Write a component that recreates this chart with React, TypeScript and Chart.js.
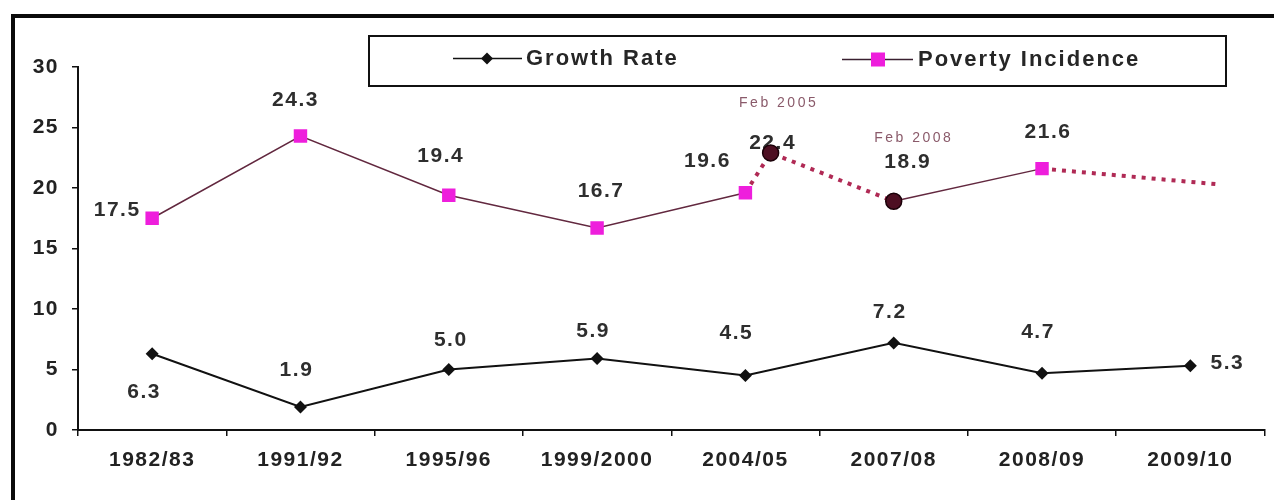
import React, { useEffect, useRef } from 'react';
import { Chart, registerables } from 'chart.js';

Chart.register(...registerables);

// ---------- data ----------
const categories = ['1982/83', '1991/92', '1995/96', '1999/2000', '2004/05', '2007/08', '2008/09', '2009/10'];
const growthRate = [6.3, 1.9, 5.0, 5.9, 4.5, 7.2, 4.7, 5.3];
const povertyIncidence: (number | null)[] = [17.5, 24.3, 19.4, 16.7, 19.6, null, 21.6, null];
const febSurveyNames = ['Feb 2005', 'Feb 2008'];
const febSurveyPosition = [4.17, 5]; // position on the category index axis
const febSurveyValues = [22.9, 18.9];
const febSurveyValueLabels = ['22.4', '18.9'];
const projectionPosition = 7.19;
const projectionValue = 20.3;
const yMin = 0;
const yMax = 30;
const yStep = 5;

// ---------- styling / placement ----------
const FONT = "'Liberation Sans', Arial, Helvetica, sans-serif";
const growthLabelOffsets = [[-8, 38], [-4, -37], [2, -29], [-4, -27], [-9, -42], [-4, -31], [-4, -41], [37, -3]];
const povertyLabelOffsets = [[-35, -8], [-5, -36], [-8, -39], [4, -37], [-38, -32], [0, 0], [6, -36], [0, 0]];
const febValueLabelOffsets = [[2, -10], [14, -39]];
const febNameOffsets = [[8, -50], [20, -63]];

const MAGENTA = '#ee1edc';
const POV_LINE = '#62283f';
const DOTTED = '#b02a55';

export default function App() {
  const ref = useRef<HTMLCanvasElement>(null);

  useEffect(() => {
    const canvas = ref.current;
    if (!canvas) return;

    const framePlugin = {
      id: 'frame',
      beforeDraw(chart: any) {
        const ctx = chart.ctx;
        ctx.save();
        ctx.fillStyle = '#ffffff';
        ctx.fillRect(0, 0, chart.width, chart.height);
        ctx.restore();
        (ctx as any).letterSpacing = '1.5px';
      },
      afterDraw(chart: any) {
        const ctx = chart.ctx;
        ctx.save();
        (ctx as any).letterSpacing = '0px';
        ctx.fillStyle = '#0a0a0a';
        ctx.fillRect(11, 14, 4, chart.height - 14);
        ctx.fillRect(11, 14, chart.width - 11, 4);
        ctx.restore();
      },
    };

    const labelPlugin = {
      id: 'valueLabels',
      beforeDatasetsDraw(chart: any) {
        const ctx = chart.ctx;
        const xs = chart.scales.xd;
        const ys = chart.scales.y;
        ctx.save();
        (ctx as any).letterSpacing = '1.5px';
        ctx.font = `bold 21px ${FONT}`;
        ctx.fillStyle = '#2e2e2e';
        ctx.textAlign = 'center';
        ctx.textBaseline = 'middle';
        growthRate.forEach((v, i) => {
          const [dx, dy] = growthLabelOffsets[i];
          ctx.fillText(v.toFixed(1), xs.getPixelForValue(i) + dx, ys.getPixelForValue(v) + dy);
        });
        povertyIncidence.forEach((v, i) => {
          if (v === null) return;
          const [dx, dy] = povertyLabelOffsets[i];
          ctx.fillText(v.toFixed(1), xs.getPixelForValue(i) + dx, ys.getPixelForValue(v) + dy);
        });
        febSurveyValues.forEach((v, i) => {
          const [dx, dy] = febValueLabelOffsets[i];
          ctx.fillText(febSurveyValueLabels[i], xs.getPixelForValue(febSurveyPosition[i]) + dx, ys.getPixelForValue(v) + dy);
        });
        (ctx as any).letterSpacing = '2.5px';
        ctx.font = `14px ${FONT}`;
        ctx.fillStyle = '#8a5a6a';
        febSurveyValues.forEach((v, i) => {
          const [dx, dy] = febNameOffsets[i];
          ctx.fillText(febSurveyNames[i], xs.getPixelForValue(febSurveyPosition[i]) + dx, ys.getPixelForValue(v) + dy);
        });
        ctx.restore();
      },
    };

    const legendPlugin = {
      id: 'boxLegend',
      afterDraw(chart: any) {
        const ctx = chart.ctx;
        ctx.save();
        ctx.strokeStyle = '#111';
        ctx.lineWidth = 2;
        ctx.strokeRect(369, 36, 857, 50);
        // growth sample
        ctx.strokeStyle = '#111';
        ctx.lineWidth = 1.5;
        ctx.beginPath();
        ctx.moveTo(453, 58.5);
        ctx.lineTo(522, 58.5);
        ctx.stroke();
        ctx.fillStyle = '#111';
        ctx.beginPath();
        ctx.moveTo(487, 52.5);
        ctx.lineTo(493, 58.5);
        ctx.lineTo(487, 64.5);
        ctx.lineTo(481, 58.5);
        ctx.closePath();
        ctx.fill();
        // poverty sample
        ctx.strokeStyle = '#3a2030';
        ctx.beginPath();
        ctx.moveTo(842, 59.5);
        ctx.lineTo(913, 59.5);
        ctx.stroke();
        ctx.fillStyle = MAGENTA;
        ctx.fillRect(871, 52.5, 14, 14);
        // texts
        (ctx as any).letterSpacing = '2px';
        ctx.font = `bold 22px ${FONT}`;
        ctx.fillStyle = '#262626';
        ctx.textAlign = 'left';
        ctx.textBaseline = 'middle';
        ctx.fillText(chart.data.datasets[0].label, 526, 59);
        ctx.fillText(chart.data.datasets[1].label, 918, 60);
        ctx.restore();
      },
    };

    const pts = (arr: (number | null)[]) => arr.map((v, i) => ({ x: i, y: v }));

    const chart = new Chart(canvas, {
      type: 'line',
      data: {
        labels: categories,
        datasets: [
          {
            label: 'Growth Rate',
            data: pts(growthRate),
            xAxisID: 'xd',
            yAxisID: 'y',
            borderColor: '#111',
            borderWidth: 2,
            pointStyle: 'rectRot',
            pointRadius: 6.5,
            pointBackgroundColor: '#111',
            pointBorderColor: '#111',
            pointBorderWidth: 0,
            tension: 0,
            order: 1,
          },
          {
            label: 'Poverty Incidence',
            data: pts(povertyIncidence),
            xAxisID: 'xd',
            yAxisID: 'y',
            borderColor: POV_LINE,
            borderWidth: 1.5,
            pointStyle: 'rect',
            pointRadius: 9.5,
            pointBackgroundColor: MAGENTA,
            pointBorderColor: MAGENTA,
            pointBorderWidth: 0,
            spanGaps: false,
            tension: 0,
            order: 2,
          },
          {
            label: 'Poverty Incidence (Feb 2008 - 2008/09)',
            data: [
              { x: febSurveyPosition[1], y: febSurveyValues[1] },
              { x: 6, y: povertyIncidence[6] },
            ],
            xAxisID: 'xd',
            yAxisID: 'y',
            borderColor: POV_LINE,
            borderWidth: 1.5,
            pointRadius: 0,
            tension: 0,
            order: 3,
          },
          {
            label: 'Poverty Incidence (projection)',
            data: [
              { x: 4, y: povertyIncidence[4] },
              { x: febSurveyPosition[0], y: febSurveyValues[0] },
              { x: febSurveyPosition[1], y: febSurveyValues[1] },
              { x: 5.5, y: null },
              { x: 6, y: povertyIncidence[6] },
              { x: projectionPosition, y: projectionValue },
            ],
            xAxisID: 'xd',
            yAxisID: 'y',
            borderColor: DOTTED,
            borderWidth: 4,
            borderDash: [4, 6],
            pointRadius: 0,
            spanGaps: false,
            tension: 0,
            order: 3,
          },
          {
            label: 'Feb surveys',
            data: febSurveyValues.map((v, i) => ({ x: febSurveyPosition[i], y: v })),
            xAxisID: 'xd',
            yAxisID: 'y',
            showLine: false,
            pointStyle: 'circle',
            pointRadius: 8,
            pointBackgroundColor: '#4d0f22',
            pointBorderColor: '#1a0008',
            pointBorderWidth: 1.5,
            order: 0,
          },
        ] as any,
      },
      options: {
        responsive: false,
        animation: false,
        events: [],
        layout: { padding: { left: 0, right: 3, top: 67, bottom: 0 } },
        plugins: {
          legend: { display: false },
          tooltip: { enabled: false },
          title: { display: false },
        },
        scales: {
          x: {
            type: 'category',
            position: 'bottom',
            offset: true,
            grid: {
              offset: true,
              drawOnChartArea: false,
              drawTicks: true,
              tickLength: 6,
              color: '#111',
              lineWidth: 1.5,
            },
            border: { display: true, color: '#111', width: 2 },
            ticks: {
              color: '#222',
              padding: 12,
              maxRotation: 0,
              autoSkip: false,
              font: { family: FONT, size: 21, weight: 'bold' },
            },
            afterFit: (scale: any) => {
              scale.height = 70;
            },
          },
          xd: {
            type: 'linear',
            display: false,
            min: -0.5,
            max: 7.5,
          },
          y: {
            type: 'linear',
            position: 'left',
            min: yMin,
            max: yMax,
            grid: {
              drawOnChartArea: false,
              drawTicks: true,
              tickLength: 6,
              color: '#111',
              lineWidth: 1.5,
            },
            border: { display: true, color: '#111', width: 2 },
            ticks: {
              stepSize: yStep,
              color: '#222',
              padding: 13,
              font: { family: FONT, size: 21, weight: 'bold' },
            },
            afterFit: (scale: any) => {
              scale.width = 78;
            },
          },
        },
      } as any,
      plugins: [framePlugin, labelPlugin, legendPlugin],
    });

    return () => chart.destroy();
  }, []);

  return (
    <div style={{ position: 'fixed', left: 0, top: 0, width: 1274, height: 500, background: '#fff' }}>
      <canvas ref={ref} width={1274} height={500} style={{ display: 'block' }} />
    </div>
  );
}
